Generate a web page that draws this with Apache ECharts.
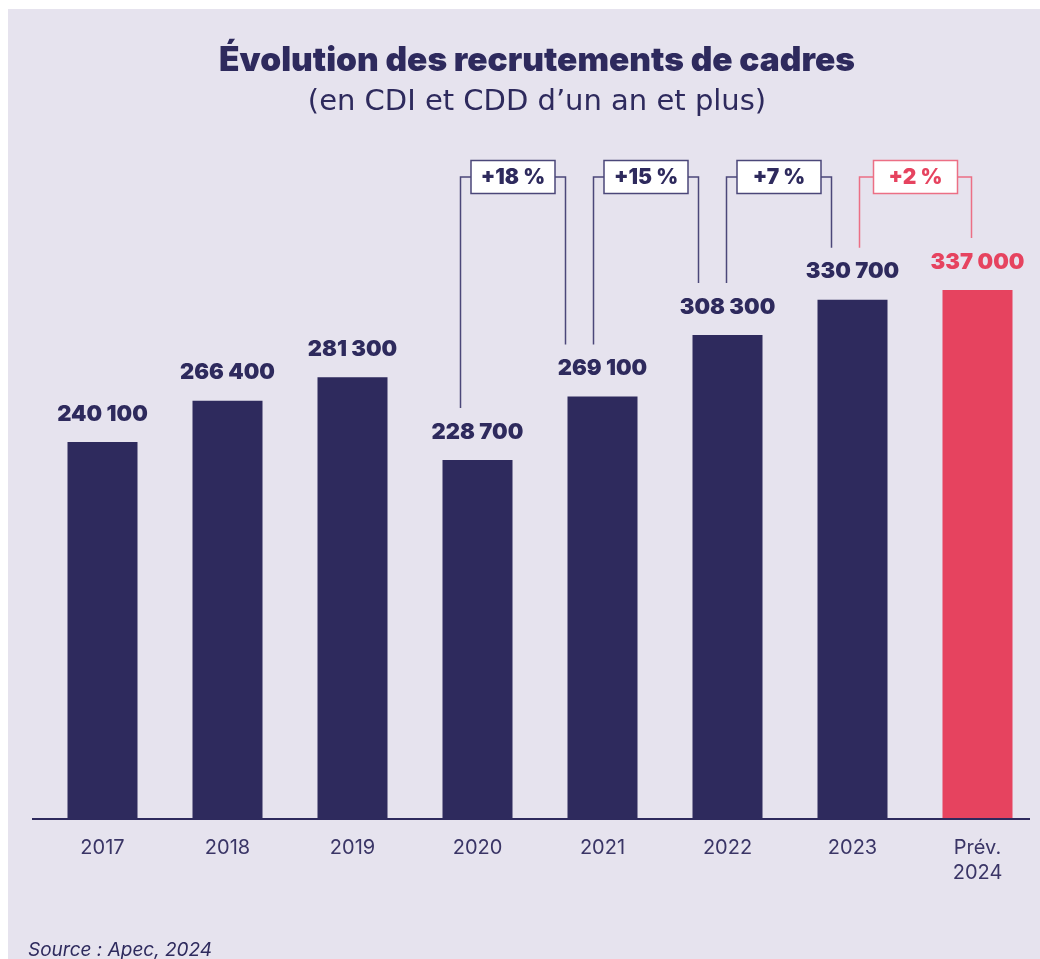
<!DOCTYPE html>
<html lang="fr">
<head>
<meta charset="utf-8">
<title>Évolution des recrutements de cadres</title>
<script src="https://cdn.jsdelivr.net/npm/echarts@6/dist/echarts.min.js"></script>
<style>
  html, body { margin: 0; padding: 0; background: #ffffff; }
  body { width: 1040px; height: 959px; position: relative; overflow: hidden; }
  #chart { position: absolute; left: 8px; top: 9px; width: 1032px; height: 950px; }
</style>
</head>
<body>
<div id="chart"></div>
<script>
// données
const years = ['2017', '2018', '2019', '2020', '2021', '2022', '2023', 'Prév.\n2024'];
const recrutements = [240100, 266400, 281300, 228700, 269100, 308300, 330700, 337000];
const forecastIndex = 7;

// évolutions annuelles affichées dans les encadrés
const bracketFrom = [3, 4, 5, 6];
const bracketTo = [4, 5, 6, 7];
const bracketPct = ['+18 %', '+15 %', '+7 %', '+2 %'];

// décalages horizontaux des traits (px, par rapport au centre des barres)
const bracketOffsets = [[-17, -37], [-9, -29], [-1, -21], [7, -6]];

const NAVY = '#2e2a5d';
const NAVY_LINE = '#4b4779';
const PINK = '#e6435f';
const PINK_LINE = '#ec6f85';
const FONT = 'Inter, "Noto Sans", sans-serif';
const WIDE = '"DejaVu Sans", Inter, sans-serif';

function fmt(v) {
  return String(v).replace(/\B(?=(\d{3})+(?!\d))/g, ' ');
}

const barData = recrutements.map((v, i) => ({
  value: v,
  itemStyle: { color: i === forecastIndex ? PINK : NAVY },
  label: { color: i === forecastIndex ? PINK : NAVY }
}));

const bracketData = bracketFrom.map((f, i) => [f, bracketTo[i], recrutements[f], recrutements[bracketTo[i]]]);

let myChart = echarts.init(document.getElementById('chart'));

let option = {
  backgroundColor: '#e6e3ee',
  animation: false,
  title: [
    {
      text: 'Évolution des recrutements de cadres',
      subtext: '(en CDI et CDD d’un an et plus)',
      left: 524,
      textAlign: 'center',
      top: 27,
      itemGap: 4,
      textStyle: { fontFamily: FONT, fontSize: 33.5, fontWeight: 900, color: NAVY, lineHeight: 40 },
      subtextStyle: { fontFamily: WIDE, fontSize: 29, fontWeight: 'normal', color: NAVY, lineHeight: 35 }
    },
    {
      text: 'Source : Apec, 2024',
      left: 15,
      top: 926,
      textStyle: { fontFamily: FONT, fontSize: 19, fontStyle: 'italic', fontWeight: 'normal', color: NAVY, lineHeight: 20 }
    }
  ],
  grid: {
    left: 32,
    right: 0,
    top: 182,
    bottom: 140
  },
  xAxis: {
    type: 'category',
    data: years,
    axisLine: { show: false },
    axisTick: { show: false },
    axisLabel: {
      margin: 16,
      fontFamily: FONT,
      fontSize: 20,
      lineHeight: 25,
      color: '#3a3566'
    }
  },
  yAxis: {
    type: 'value',
    min: 0,
    max: 400000,
    show: false,
    splitLine: { show: false }
  },
  graphic: [
    {
      type: 'line',
      shape: { x1: 24, y1: 810, x2: 1022, y2: 810 },
      style: { stroke: NAVY, lineWidth: 2 },
      z: 10
    }
  ],
  series: [
    {
      type: 'bar',
      data: barData,
      barWidth: 70,
      label: {
        show: true,
        position: 'top',
        distance: 17,
        fontFamily: FONT,
        fontSize: 22,
        fontWeight: 900,
        formatter: (p) => fmt(p.value)
      }
    },
    {
      type: 'custom',
      clip: false,
      z: 5,
      data: bracketData,
      encode: { x: [0, 1], y: [2, 3] },
      renderItem: function (params, api) {
        const i = params.dataIndex;
        const pFrom = api.coord([api.value(0), api.value(2)]);
        const pTo = api.coord([api.value(1), api.value(3)]);
        const top = api.coord([0, 400000])[1] - 14;
        const xl = pFrom[0] + bracketOffsets[i][0];
        const xr = pTo[0] + bracketOffsets[i][1];
        const yl = pFrom[1] - 52;
        const yr = pTo[1] - 52;
        const cx = (xl + xr) / 2;
        const bw = 84, bh = 33;
        const hot = api.value(1) === forecastIndex;
        const line = hot ? PINK_LINE : NAVY_LINE;
        const txt = hot ? PINK : NAVY;
        return {
          type: 'group',
          children: [
            {
              type: 'polyline',
              shape: { points: [[xl, yl], [xl, top], [cx - bw / 2, top]] },
              style: { stroke: line, lineWidth: 1.5, fill: null }
            },
            {
              type: 'polyline',
              shape: { points: [[cx + bw / 2, top], [xr, top], [xr, yr]] },
              style: { stroke: line, lineWidth: 1.5, fill: null }
            },
            {
              type: 'rect',
              shape: { x: cx - bw / 2, y: top - bh / 2, width: bw, height: bh },
              style: { fill: '#ffffff', stroke: line, lineWidth: 1.5 }
            },
            {
              type: 'text',
              style: {
                x: cx,
                y: top + 1,
                text: bracketPct[i],
                align: 'center',
                verticalAlign: 'middle',
                fontFamily: FONT,
                fontSize: 21,
                fontWeight: 900,
                fill: txt
              }
            }
          ]
        };
      }
    }
  ]
};

myChart.setOption(option);
</script>
</body>
</html>
